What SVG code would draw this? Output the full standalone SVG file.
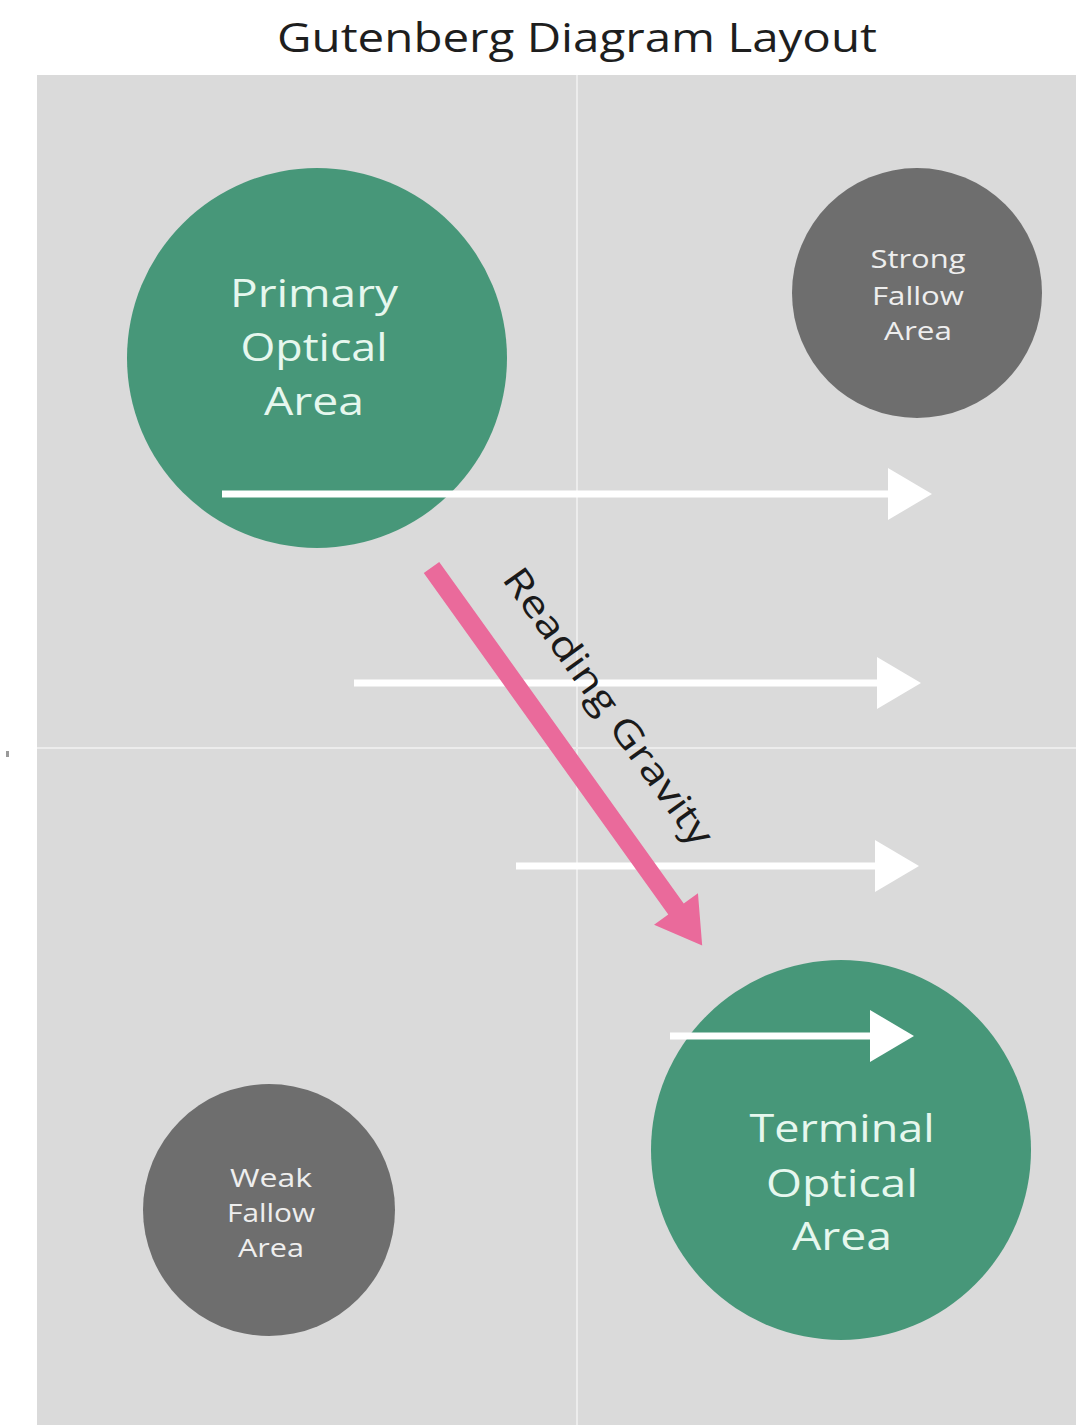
<svg xmlns="http://www.w3.org/2000/svg" width="1076" height="1425" viewBox="0 0 1076 1425">
  <defs>
    <style>
      .title { font-family: "Open Sans", "Liberation Sans", sans-serif; font-size: 40px; fill: #1e1e1e; text-anchor: middle; }
      .big { font-family: "Open Sans", "Liberation Sans", sans-serif; font-size: 38px; fill: #e6f7ee; text-anchor: middle; }
      .small { font-family: "Open Sans", "Liberation Sans", sans-serif; font-size: 25px; fill: #eeeeee; text-anchor: middle; }
      .green { fill: #479779; }
      .gray { fill: #6e6e6e; }
      .divider { stroke: #ececec; stroke-width: 2; }
      .flow { stroke: #ffffff; stroke-width: 7; fill: none; marker-end: url(#head); }
      .gravity-label { font-family: "Open Sans", "Liberation Sans", sans-serif; font-size: 37px; fill: #1a1a1a; text-anchor: middle; }
    </style>
    <marker id="head" markerUnits="userSpaceOnUse" markerWidth="44" markerHeight="52" refX="0" refY="26" orient="auto" overflow="visible">
      <path d="M0,0 L44,26 L0,52 Z" fill="#ffffff"/>
    </marker>
  </defs>

  <rect x="0" y="0" width="1076" height="1425" fill="#ffffff"/>
  <text class="title" x="577" y="52" textLength="600" lengthAdjust="spacingAndGlyphs">Gutenberg Diagram Layout</text>

  <g id="panel">
    <rect x="37" y="75" width="1039" height="1350" fill="#dadada"/>
    <line class="divider" x1="577" y1="75" x2="577" y2="1425"/>
    <line class="divider" x1="37" y1="748" x2="1076" y2="748"/>
  </g>
  <rect x="6" y="751" width="3" height="6" fill="#9a9a9a"/>

  <g id="primary-optical-area">
    <circle class="green" cx="317" cy="358" r="190"/>
    <text class="big" x="314" y="307" textLength="168" lengthAdjust="spacingAndGlyphs">Primary</text>
    <text class="big" x="314" y="361" textLength="147" lengthAdjust="spacingAndGlyphs">Optical</text>
    <text class="big" x="314" y="415" textLength="100" lengthAdjust="spacingAndGlyphs">Area</text>
  </g>

  <g id="strong-fallow-area">
    <circle class="gray" cx="917" cy="293" r="125"/>
    <text class="small" x="918" y="268" textLength="95" lengthAdjust="spacingAndGlyphs">Strong</text>
    <text class="small" x="918" y="305" textLength="92" lengthAdjust="spacingAndGlyphs">Fallow</text>
    <text class="small" x="918" y="340" textLength="68" lengthAdjust="spacingAndGlyphs">Area</text>
  </g>

  <g id="weak-fallow-area">
    <circle class="gray" cx="269" cy="1210" r="126"/>
    <text class="small" x="271" y="1187" textLength="82" lengthAdjust="spacingAndGlyphs">Weak</text>
    <text class="small" x="271" y="1222" textLength="88" lengthAdjust="spacingAndGlyphs">Fallow</text>
    <text class="small" x="271" y="1257" textLength="66" lengthAdjust="spacingAndGlyphs">Area</text>
  </g>

  <g id="terminal-optical-area">
    <circle class="green" cx="841" cy="1150" r="190"/>
    <text class="big" x="842" y="1142" textLength="185" lengthAdjust="spacingAndGlyphs">Terminal</text>
    <text class="big" x="842" y="1197" textLength="152" lengthAdjust="spacingAndGlyphs">Optical</text>
    <text class="big" x="842" y="1250" textLength="100" lengthAdjust="spacingAndGlyphs">Area</text>
  </g>

  <g id="connectors">
    <line class="flow" x1="222" y1="494" x2="888" y2="494"/>
    <line class="flow" x1="354" y1="683" x2="877" y2="683"/>
    <line class="flow" x1="516" y1="866" x2="875" y2="866"/>
    <line class="flow" x1="670" y1="1036" x2="870" y2="1036"/>
    <g id="reading-gravity" transform="translate(431.5,567.5) rotate(54.4)">
      <polygon points="0,-9.5 420,-9.5 420,-27 465,0 420,27 420,9.5 0,9.5" fill="#ea6a9b"/>
    </g>
    <text class="gravity-label" transform="translate(598,714) rotate(54.4)" x="0" y="0" textLength="332" lengthAdjust="spacingAndGlyphs">Reading Gravity</text>
  </g>
</svg>
